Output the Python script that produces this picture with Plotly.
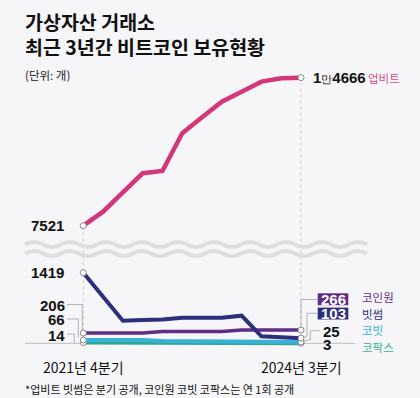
import plotly.graph_objects as go

# ---------------- data ----------------
quarters = ["2021년 4분기", "2022년 1분기", "2022년 2분기", "2022년 3분기", "2022년 4분기",
            "2023년 1분기", "2023년 2분기", "2023년 3분기", "2023년 4분기",
            "2024년 1분기", "2024년 2분기", "2024년 3분기"]
upbit = [7521, 8197, 9134, 10052, 10163, 11984, 12757, 13510, 13993, 14476, 14640, 14666]
bithumb = [1419, 936, 454, 466, 480, 515, 512, 515, 555, 140, 122, 103]
coinone = [206, 206, 206, 206, 236, 236, 236, 236, 266, 266, 266, 266]
korbit = [66, 66, 66, 66, 45, 45, 45, 45, 30, 30, 30, 25]
gopax = [14, 14, 14, 14, 8, 8, 8, 8, 3, 3, 3, 3]

colors = {"업비트": "#d4367a", "빗썸": "#2c2f7c", "코인원": "#5e2d85",
          "코빗": "#38b2d9", "코팍스": "#2fa896"}
label_colors = {"업비트": "#d84a8e", "빗썸": "#2c2f7c", "코인원": "#5e2d85",
                "코빗": "#38aedb", "코팍스": "#3cb494"}

W, H = 420, 398
BG = "#f6f6f8"
KR = "Noto Sans CJK KR"
NUM = "Liberation Sans Narrow, Liberation Sans, Arial, sans-serif"
NS = 15  # number font size

x_idx = list(range(len(quarters)))

# ---------------- layout calibration (pixels) ----------------
X0_PX, XN_PX = 83.3, 301.0
step = (XN_PX - X0_PX) / (len(quarters) - 1)
x_range = [-X0_PX / step, (len(quarters) - 1) + (W - XN_PX) / step]

UP_A_PX, UP_B_PX = 225.7, 77.7
s_up = (UP_A_PX - UP_B_PX) / (upbit[-1] - upbit[0])
y_up_range = [upbit[0] - (H - UP_A_PX) / s_up, upbit[-1] + UP_B_PX / s_up]

ZERO_PX, LOW_REF_PX = 343.3, 272.7
s_lo = (ZERO_PX - LOW_REF_PX) / bithumb[0]
y_lo_range = [-(H - ZERO_PX) / s_lo, ZERO_PX / s_lo]


def px(xp):
    return xp / W


def py(yp):
    return 1 - yp / H


fig = go.Figure()

series = [("코팍스", gopax, "y2", 4), ("코빗", korbit, "y2", 4), ("코인원", coinone, "y2", 3.5),
          ("빗썸", bithumb, "y2", 4), ("업비트", upbit, "y", 4.5)]
for nm, vals, ax, w in series:
    fig.add_trace(go.Scatter(x=x_idx, y=vals, yaxis=ax, mode="lines",
                             line=dict(color=colors[nm], width=w), hoverinfo="skip"))
for nm, vals, ax, w in series:
    fig.add_trace(go.Scatter(x=[x_idx[0], x_idx[-1]], y=[vals[0], vals[-1]], yaxis=ax,
                             mode="markers",
                             marker=dict(size=6, color="white", line=dict(color="#8a8a8a", width=1)),
                             hoverinfo="skip"))

shapes = []
gray = "#b4b4b4"


def path(points):
    return "M " + " L ".join(f"{px(a):.5f},{py(b):.5f}" for a, b in points)


shapes.append(dict(type="line", xref="x", yref="paper", x0=0, x1=0,
                   y0=py(ZERO_PX), y1=py(UP_A_PX), layer="below",
                   line=dict(color="#c8c8c8", width=1, dash="dot")))
shapes.append(dict(type="line", xref="x", yref="paper", x0=len(quarters) - 1, x1=len(quarters) - 1,
                   y0=py(ZERO_PX), y1=py(UP_B_PX), layer="below",
                   line=dict(color="#c8c8c8", width=1, dash="dot")))
shapes.append(dict(type="line", xref="paper", yref="paper", x0=px(25), x1=px(355),
                   y0=py(ZERO_PX), y1=py(ZERO_PX), layer="below",
                   line=dict(color="#bdbdbd", width=1)))
for cy in (244.5, 253.5):
    per, amp = 36.0, 2.6
    d = f"M {px(25):.5f},{py(cy):.5f}"
    xcur = 25.0
    first = True
    while xcur < 355:
        if first:
            d += f" Q {px(xcur + per / 4):.5f},{py(cy - 2 * amp):.5f} {px(xcur + per / 2):.5f},{py(cy):.5f}"
            first = False
        else:
            d += f" T {px(xcur + per / 2):.5f},{py(cy):.5f}"
        xcur += per / 2
    shapes.append(dict(type="path", xref="paper", yref="paper", path=d, layer="below",
                       line=dict(color="#dedede", width=4)))

shapes.append(dict(type="path", xref="paper", yref="paper", layer="below",
                   path=path([(67, 304.5), (82.3, 304.5), (82.3, 331)]), line=dict(color=gray, width=1)))
shapes.append(dict(type="path", xref="paper", yref="paper", layer="below",
                   path=path([(67, 319), (78.3, 319), (78.3, 337.5)]), line=dict(color=gray, width=1)))
shapes.append(dict(type="path", xref="paper", yref="paper", layer="below",
                   path=path([(67, 334), (74.3, 334), (74.3, 343)]), line=dict(color=gray, width=1)))
shapes.append(dict(type="path", xref="paper", yref="paper", layer="below",
                   path=path([(317, 299.5), (301, 299.5), (301, 328)]), line=dict(color=gray, width=1)))
shapes.append(dict(type="path", xref="paper", yref="paper", layer="below",
                   path=path([(317, 313.3), (307, 313.3), (307, 336.3), (303, 337.5)]), line=dict(color=gray, width=1)))
shapes.append(dict(type="path", xref="paper", yref="paper", layer="below",
                   path=path([(320, 330.7), (310.3, 330.7), (310.3, 339.7), (303, 341)]), line=dict(color=gray, width=1)))
shapes.append(dict(type="rect", xref="paper", yref="paper", x0=px(317.7), x1=px(348.3),
                   y0=py(305.2), y1=py(293.3), fillcolor=colors["코인원"], line=dict(width=0)))
shapes.append(dict(type="rect", xref="paper", yref="paper", x0=px(317.7), x1=px(348.3),
                   y0=py(319.5), y1=py(307.6), fillcolor=colors["빗썸"], line=dict(width=0)))

ann = []


def A(text, x, y, size, color="#111", family=KR, xanchor="left", xref="paper", yref="paper",
      xshift=0, weight=None):
    f = dict(size=size, color=color, family=family)
    if weight:
        f["weight"] = weight
    ann.append(dict(text=text, x=x, y=y, xref=xref, yref=yref, xanchor=xanchor, yanchor="middle",
                    showarrow=False, font=f, xshift=xshift))


A("가상자산 거래소", px(23), py(21.5), 19.5, "#111", weight="bold")
A("최근 3년간 비트코인 보유현황", px(23), py(46.5), 19.5, "#111", weight="bold")
A("(단위: 개)", px(23), py(75), 11.5, "#222")

A("<b>1</b><span style='font-size:11px'>만</span><b>4666</b>", px(311), py(77.7), NS, "#111", family=NUM)
A("업비트", px(365.5), py(77.5), 11.5, label_colors["업비트"])

A(f"<b>{upbit[0]}</b>", 0, upbit[0], NS, "#111", family=NUM, xanchor="right", xref="x", yref="y", xshift=-17)
A(f"<b>{bithumb[0]}</b>", 0, bithumb[0], NS, "#111", family=NUM, xanchor="right", xref="x", yref="y2", xshift=-17)
A(f"<b>{coinone[0]}</b>", px(66.5), py(305), NS, "#111", family=NUM, xanchor="right")
A(f"<b>{korbit[0]}</b>", px(66.5), py(319.5), NS, "#111", family=NUM, xanchor="right")
A(f"<b>{gopax[0]}</b>", px(66.5), py(335.5), NS, "#111", family=NUM, xanchor="right")

A(f"<b>{coinone[-1]}</b>", px(333), py(299.3), NS, "white", family=NUM, xanchor="center")
A(f"<b>{bithumb[-1]}</b>", px(333), py(313.6), NS, "white", family=NUM, xanchor="center")
A(f"<b>{korbit[-1]}</b>", px(321), py(331.5), NS, "#111", family=NUM)
A(f"<b>{gopax[-1]}</b>", px(321), py(344.3), NS, "#111", family=NUM)

A("코인원", px(359.5), py(297), 11.5, label_colors["코인원"])
A("빗썸", px(359.5), py(313.5), 11.5, label_colors["빗썸"])
A("코빗", px(359.5), py(330), 11.5, label_colors["코빗"])
A("코팍스", px(359.5), py(346.5), 11.5, label_colors["코팍스"])

A(quarters[0], 0, py(366.5), 14, "#111", xanchor="center", xref="x")
A(quarters[-1], len(quarters) - 1, py(366.5), 14, "#111", xanchor="center", xref="x")

A("*업비트 빗썸은 분기 공개, 코인원 코빗 코팍스는 연 1회 공개", px(23), py(389), 11, "#111")

fig.update_layout(
    width=W, height=H, margin=dict(l=0, r=0, t=0, b=0),
    paper_bgcolor=BG, plot_bgcolor=BG, showlegend=False,
    xaxis=dict(range=x_range, visible=False, fixedrange=True),
    yaxis=dict(range=y_up_range, visible=False, domain=[0, 1], fixedrange=True),
    yaxis2=dict(range=y_lo_range, visible=False, overlaying="y", fixedrange=True),
    shapes=shapes, annotations=ann,
)

fig.write_html("out.html", config={"displayModeBar": False, "staticPlot": True},
               post_script="document.body.style.margin='0';document.body.style.overflow='hidden';"
                           f"document.body.style.background='{BG}';")
